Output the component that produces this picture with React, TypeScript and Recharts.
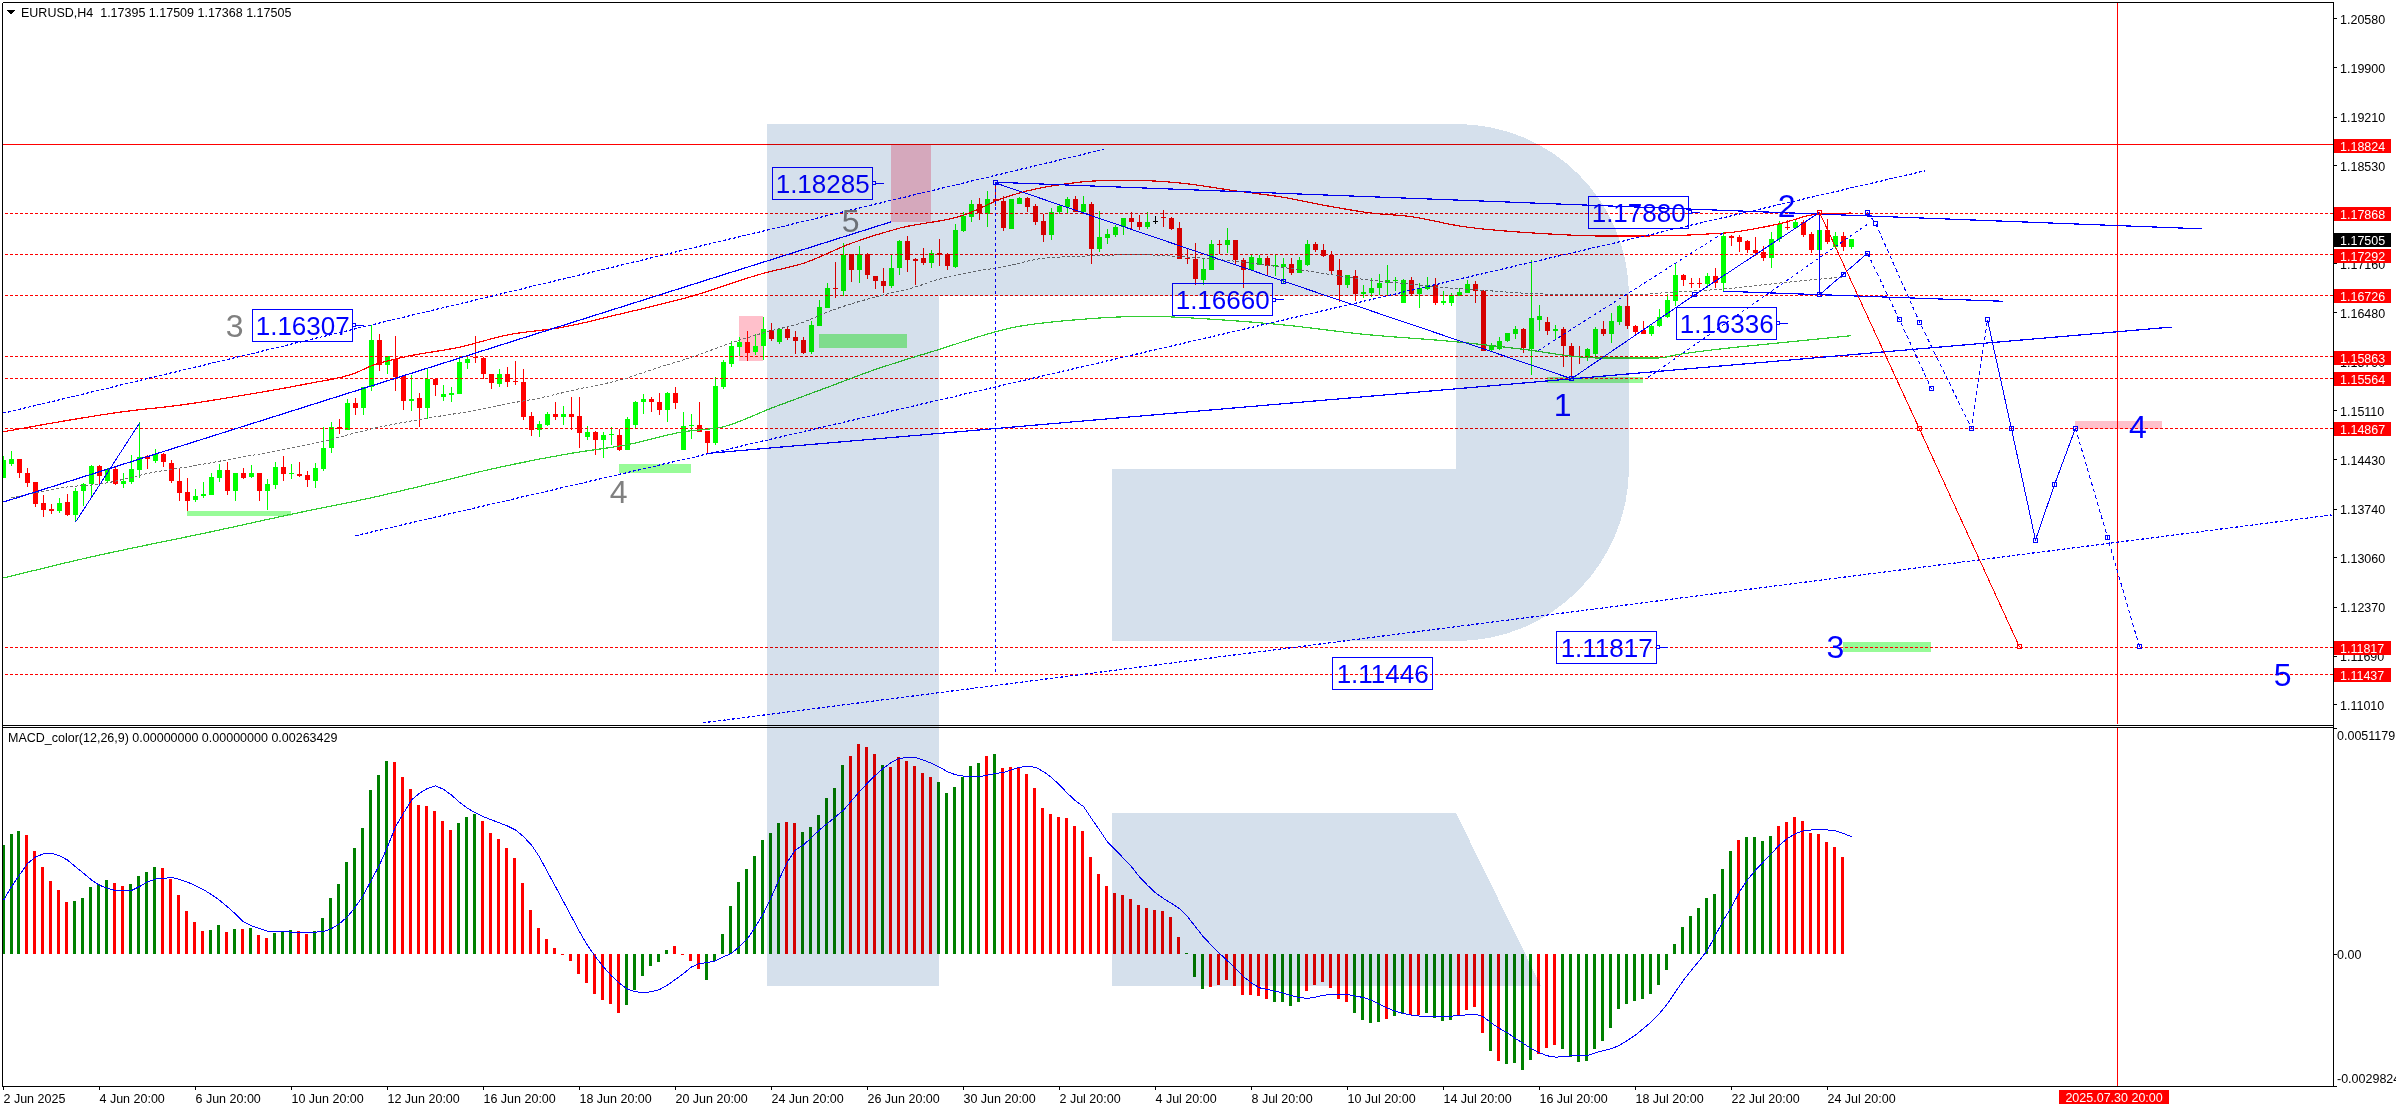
import { Bar, Cell, ComposedChart, Line, ReferenceArea, ReferenceDot, ReferenceLine, XAxis, YAxis } from 'recharts'

// prices below are written as price x 10000, MACD values as value x 100000
const opens = [
  11417, 11437, 11444, 11425, 11412, 11382, 11374, 11371, 11384, 11366, 11399, 11409, 11434, 11413, 11430, 11409, 11412, 11428, 11448, 11441,
  11451, 11439, 11414, 11398, 11387, 11392, 11394, 11417, 11428, 11400, 11425, 11419, 11424, 11400, 11408, 11433, 11423, 11423, 11421, 11414,
  11430, 11460, 11489, 11484, 11522, 11515, 11544, 11610, 11575, 11584, 11560, 11525, 11529, 11515, 11556, 11531, 11533, 11534, 11578, 11586,
  11585, 11562, 11549, 11562, 11553, 11551, 11504, 11484, 11492, 11507, 11502, 11507, 11504, 11474, 11482, 11470, 11477, 11478, 11456, 11491,
  11523, 11528, 11524, 11513, 11536, 11457, 11490, 11491, 11483, 11467, 11545, 11577, 11600, 11607, 11593, 11601, 11624, 11607, 11626, 11614,
  11610, 11593, 11630, 11655, 11682, 11679, 11730, 11707, 11730, 11699, 11692, 11685, 11710, 11748, 11723, 11724, 11718, 11732, 11730, 11712,
  11762, 11782, 11799, 11786, 11806, 11804, 11765, 11800, 11808, 11797, 11776, 11756, 11788, 11796, 11807, 11788, 11799, 11737, 11752, 11756,
  11767, 11780, 11775, 11767, 11776, 11781, 11780, 11766, 11724, 11723, 11694, 11707, 11744, 11742, 11750, 11722, 11708, 11715, 11725, 11713,
  11712, 11716, 11704, 11715, 11744, 11736, 11729, 11708, 11686, 11699, 11674, 11676, 11682, 11689, 11692, 11662, 11694, 11674, 11681, 11687,
  11662, 11661, 11672, 11676, 11688, 11679, 11596, 11598, 11608, 11618, 11626, 11598, 11638, 11635, 11623, 11626, 11601, 11588, 11585, 11591,
  11626, 11619, 11635, 11658, 11630, 11624, 11619, 11629, 11642, 11665, 11701, 11690, 11690, 11688, 11699, 11690, 11755, 11754, 11748, 11735,
  11733, 11725, 11751, 11767, 11766, 11775, 11758, 11735, 11763, 11739, 11755, 11739.5,
]
const highs = [
  11448, 11455, 11444, 11432, 11412, 11394, 11381, 11389, 11395, 11404, 11411, 11435, 11435, 11432, 11434, 11425, 11449, 11495, 11450, 11458,
  11453, 11442, 11432, 11417, 11402, 11412, 11425, 11437, 11440, 11425, 11431, 11436, 11425, 11416, 11440, 11448, 11437, 11440, 11427, 11439,
  11489, 11496, 11500, 11527, 11529, 11545, 11631, 11618, 11587, 11615, 11560, 11561, 11536, 11569, 11557, 11547, 11544, 11587, 11588, 11615,
  11586, 11563, 11569, 11572, 11581, 11570, 11509, 11497, 11509, 11523, 11518, 11530, 11530, 11490, 11483, 11482, 11489, 11486, 11502, 11525,
  11534, 11530, 11536, 11538, 11544, 11509, 11507, 11523, 11483, 11558, 11582, 11609, 11614, 11623, 11618, 11642, 11634, 11627, 11629, 11623,
  11614, 11636, 11666, 11689, 11719, 11745, 11730, 11741, 11732, 11699, 11710, 11728, 11750, 11755, 11724, 11738, 11736, 11751, 11732, 11772,
  11789, 11805, 11808, 11818, 11829, 11811, 11807, 11809, 11809, 11799, 11786, 11794, 11800, 11809, 11811, 11811, 11802, 11790, 11765, 11770,
  11780, 11788, 11784, 11789, 11783, 11791, 11782, 11775, 11737, 11745, 11724, 11749, 11750, 11766, 11750, 11724, 11729, 11729, 11727, 11730,
  11724, 11724, 11726, 11750, 11746, 11744, 11734, 11723, 11701, 11708, 11687, 11696, 11702, 11714, 11698, 11695, 11698, 11689, 11698, 11696,
  11678, 11675, 11683, 11694, 11692, 11680, 11606, 11614, 11620, 11630, 11627, 11721, 11659, 11642, 11631, 11628, 11606, 11602, 11599, 11628,
  11636, 11647, 11659, 11674, 11631, 11637, 11631, 11653, 11674, 11718, 11702, 11697, 11697, 11704, 11710, 11761, 11756, 11756, 11749, 11754,
  11741, 11761, 11776, 11778, 11778, 11778, 11760, 11788, 11779, 11760, 11760, 11750.9,
]
const lows = [
  11417, 11434, 11417, 11405, 11377, 11363, 11367, 11369, 11365, 11358, 11379, 11393, 11409, 11411, 11408, 11403, 11409, 11418, 11430, 11439,
  11433, 11410, 11385, 11372, 11384, 11390, 11394, 11412, 11394, 11386, 11416, 11417, 11386, 11373, 11402, 11414, 11416, 11419, 11405, 11404,
  11427, 11453, 11479, 11484, 11505, 11505, 11539, 11567, 11562, 11539, 11513, 11511, 11489, 11500, 11532, 11525, 11523, 11534, 11569, 11578,
  11555, 11542, 11545, 11545, 11547, 11499, 11476, 11474, 11490, 11498, 11492, 11484, 11460, 11471, 11450, 11446, 11463, 11455, 11456, 11486,
  11507, 11510, 11506, 11495, 11514, 11457, 11472, 11482, 11453, 11464, 11542, 11572, 11587, 11580, 11589, 11582, 11608, 11604, 11610, 11590,
  11590, 11590, 11629, 11655, 11668, 11672, 11691, 11690, 11695, 11681, 11675, 11682, 11701, 11705, 11686, 11715, 11711, 11713, 11707, 11710,
  11760, 11774, 11778, 11767, 11797, 11762, 11765, 11800, 11788, 11770, 11746, 11750, 11786, 11787, 11788, 11786, 11716, 11733, 11744, 11754,
  11756, 11765, 11763, 11765, 11772, 11768, 11764, 11723, 11716, 11687, 11686, 11707, 11730, 11732, 11714, 11683, 11707, 11714, 11701, 11699,
  11689, 11700, 11703, 11713, 11733, 11726, 11701, 11663, 11682, 11664, 11669, 11670, 11673, 11673, 11678, 11661, 11672, 11654, 11680, 11659,
  11659, 11658, 11671, 11675, 11662, 11594, 11595, 11596, 11607, 11612, 11592, 11561, 11622, 11617, 11611, 11573, 11557, 11577, 11580, 11588,
  11616, 11606, 11631, 11626, 11615, 11618, 11615, 11628, 11641, 11658, 11685, 11682, 11682, 11683, 11682, 11679, 11741, 11733, 11731, 11727,
  11720, 11711, 11747, 11763, 11765, 11754, 11732, 11730, 11744, 11737, 11734, 11736.8,
]
const closes = [
  11442, 11444, 11425, 11411, 11381, 11373, 11371, 11383, 11366, 11400, 11409, 11434, 11420, 11430, 11409, 11413, 11430, 11447, 11444, 11451,
  11440, 11414, 11397, 11386, 11393, 11395, 11419, 11428, 11400, 11424, 11418, 11424, 11400, 11409, 11433, 11423, 11425, 11420, 11415, 11431,
  11460, 11489, 11486, 11522, 11515, 11544, 11610, 11575, 11587, 11558, 11525, 11528, 11515, 11555, 11547, 11534, 11536, 11579, 11584, 11585,
  11562, 11550, 11562, 11552, 11551, 11503, 11485, 11493, 11507, 11502, 11507, 11503, 11480, 11482, 11470, 11478, 11479, 11457, 11500, 11524,
  11528, 11523, 11513, 11536, 11522, 11490, 11491, 11482, 11467, 11546, 11579, 11601, 11607, 11592, 11602, 11626, 11611, 11626, 11613, 11609,
  11592, 11631, 11656, 11682, 11681, 11729, 11707, 11730, 11700, 11692, 11685, 11710, 11748, 11722, 11720, 11718, 11731, 11729, 11713, 11764,
  11783, 11799, 11787, 11806, 11804, 11766, 11806, 11808, 11796, 11775, 11756, 11789, 11797, 11807, 11789, 11799, 11737, 11753, 11758, 11768,
  11780, 11774, 11767, 11775, 11776, 11780, 11765, 11723, 11723, 11695, 11709, 11744, 11742, 11750, 11721, 11708, 11726, 11725, 11713, 11715,
  11716, 11704, 11722, 11744, 11735, 11727, 11706, 11686, 11700, 11674, 11677, 11683, 11689, 11693, 11693, 11694, 11674, 11683, 11687, 11661,
  11664, 11673, 11677, 11688, 11678, 11595, 11602, 11608, 11620, 11626, 11599, 11640, 11644, 11623, 11625, 11601, 11587, 11586, 11597, 11626,
  11619, 11637, 11658, 11629, 11621, 11619, 11630, 11642, 11666, 11701, 11693, 11689, 11689, 11699, 11690, 11755, 11752, 11747, 11735, 11732,
  11725, 11751, 11772, 11766, 11775, 11757, 11736, 11764, 11747, 11755, 11740, 11750.5,
]

const macdHist = [
  247, 273, 279, 270, 233, 197, 165, 145, 118, 120, 127, 152, 159, 168, 161, 154, 159, 177, 186, 197,
  195, 170, 134, 97, 72, 52, 54, 66, 50, 57, 57, 60, 43, 36, 48, 52, 54, 52, 45, 52,
  82, 127, 159, 208, 240, 285, 371, 405, 437, 435, 401, 374, 337, 335, 324, 301, 281, 297, 310, 317,
  301, 274, 260, 240, 217, 161, 100, 59, 34, 14, -1, -16, -45, -66, -91, -104, -113, -134, -116, -82,
  -50, -27, -18, 9, 18, -1, -16, -34, -59, -16, 45, 109, 163, 193, 222, 258, 274, 297, 299, 297,
  276, 288, 315, 353, 376, 428, 448, 476, 469, 453, 428, 424, 446, 437, 426, 410, 401, 390, 365, 378,
  401, 426, 433, 448, 453, 421, 424, 423, 408, 376, 331, 317, 310, 308, 290, 279, 220, 181, 154, 138,
  134, 125, 111, 104, 100, 97, 84, 39, 2, -52, -79, -75, -70, -59, -72, -93, -93, -95, -102, -109,
  -109, -118, -109, -84, -70, -63, -77, -102, -109, -134, -149, -156, -154, -147, -140, -136, -138, -138, -134, -145,
  -152, -149, -140, -127, -120, -179, -220, -242, -249, -247, -263, -240, -226, -213, -206, -215, -233, -245, -242, -215,
  -197, -168, -125, -113, -106, -102, -91, -70, -36, 23, 61, 86, 104, 127, 136, 193, 233, 258, 265, 265,
  256, 267, 290, 299, 310, 301, 274, 272, 254, 242, 220,
]
const macdColors =
  'gggrrrrrrgggggrrggggrrrrrrggrgrgrrgggrrggggggggggrrrrrrrrgggrrrrrrrrrrrrrrrrrrggggggrrrrggggggggggrrggggggrrrrgrrrrrrggggggrgrrrrrrrrrrrrrrrrrrrrrrrgggrrrrrrrrggggrrrrrrggggrggrrggggrrrrgrggggrrrggggggggggggggggggggggrggggrrrrrr'
const macdSignal = [
  122, 153, 179, 205, 220, 227, 228, 223, 213, 198, 183, 168, 156, 149, 144, 143, 144, 153, 164, 170,
  171, 174, 169, 163, 155, 146, 135, 122, 107, 91, 73, 64, 58, 52, 51, 51, 50, 49, 49, 50,
  51, 58, 69, 85, 107, 134, 168, 202, 243, 288, 319, 349, 364, 375, 381, 373, 360, 344, 330, 320,
  311, 304, 297, 290, 281, 266, 247, 220, 186, 153, 119, 85, 51, 20, -6, -29, -49, -66, -79, -85,
  -87, -85, -80, -70, -57, -44, -29, -21, -19, -15, -6, 2, 17, 35, 62, 92, 130, 171, 209, 236,
  247, 264, 281, 296, 311, 326, 347, 368, 387, 405, 421, 434, 443, 445, 445, 439, 432, 423, 413, 406,
  403, 402, 402, 405, 409, 411, 417, 423, 425, 423, 413, 400, 383, 364, 347, 334, 307, 281, 254, 236,
  217, 198, 175, 156, 139, 126, 115, 103, 85, 62, 39, 20, 2, -15, -32, -51, -65, -76, -80, -84,
  -88, -94, -98, -100, -97, -93, -91, -91, -91, -95, -98, -104, -113, -122, -129, -134, -138, -140, -140, -140,
  -140, -140, -139, -137, -136, -142, -156, -168, -178, -191, -202, -214, -223, -230, -233, -232, -230, -230, -229, -223,
  -218, -214, -206, -195, -183, -168, -153, -134, -112, -85, -59, -36, -14, 9, 43, 77, 107, 141, 168, 190,
  209, 228, 247, 262, 273, 279, 281, 282, 281, 279, 273, 266,
]

// moving averages: [bar index, price x 10000]
const redMa = [
  [0, 11482], [6, 11494], [15, 11510], [22, 11519], [30, 11533], [38, 11549], [44, 11564], [46, 11574], [50, 11586], [57, 11600],
  [63, 11617], [70, 11628], [77, 11646], [86, 11671], [95, 11703], [100, 11717], [106, 11745], [112, 11766], [120, 11784], [125, 11808],
  [128, 11818], [133, 11828], [137, 11832], [143, 11832], [147, 11829], [154, 11818], [160, 11809], [165, 11798], [171, 11787], [176, 11782],
  [182, 11769], [193, 11758], [200, 11755], [205, 11755], [215, 11759], [222, 11772], [227, 11786], [231, 11787],
]
const grayMa = [
  [1, 11390], [4, 11397], [8, 11405], [12, 11409], [19, 11426], [23, 11433], [29, 11445], [34, 11455], [39, 11466], [46, 11486],
  [53, 11501], [58, 11510], [63, 11521], [67, 11529], [72, 11542], [77, 11554], [82, 11572], [86, 11586], [91, 11606], [95, 11620],
  [100, 11635], [103, 11649], [110, 11673], [114, 11684], [117, 11695], [121, 11705], [125, 11712], [130, 11724], [135, 11727], [142, 11729],
  [146, 11727], [152, 11722], [162, 11708], [169, 11696], [175, 11689], [179, 11684], [184, 11680], [193, 11674], [203, 11673], [209, 11677],
  [216, 11682], [220, 11687], [230, 11698],
]
const greenMa = [
  [0, 11278], [10, 11305], [27, 11345], [36, 11367], [46, 11390], [54, 11411], [61, 11430], [71, 11452], [78, 11464], [85, 11482],
  [90, 11489], [96, 11515], [103, 11544], [108, 11565], [117, 11597], [126, 11627], [135, 11639], [143, 11643], [151, 11639], [160, 11631],
  [170, 11618], [182, 11607], [190, 11597], [199, 11585], [207, 11585], [209, 11589], [222, 11606], [231, 11616],
]

// wave paths and forecast legs: [bar index, price x 10000]
const impulseLeg = [[9, 11356], [17, 11494]]
const wavePath = [[124, 11829], [160, 11692], [196, 11556], [211.4, 11673], [227, 11788], [227, 11673], [230, 11702], [233, 11731]]
const redForecast = [[227, 11788], [239.5, 11486], [252, 11182]]
const blueForecast = [[248, 11638], [251, 11486], [254, 11331], [256.4, 11409], [259, 11487]]
const dashedForecastA = [[259, 11487], [263, 11335], [267, 11182]]
const dashedForecastB = [[233, 11788], [234, 11773], [239.5, 11635], [246, 11487], [248, 11638]]
const dashedForecastC = [[233, 11731], [237, 11638], [241, 11542]]

// straight trend lines: [bar, price, bar, price]
const solidTrends = [
  [0, 11384, 111, 11775],
  [88.2, 11452, 271, 11628],
  [124, 11830, 274.8, 11765],
  [215, 11678, 250, 11664],
]
const dottedTrends = [
  [0, 11508, 137.6, 11876],
  [44, 11337, 240.2, 11846],
  [87.4, 11076, 291, 11366],
]
const thinDotted = [
  [191.8, 11595, 215.2, 11761],
  [205.6, 11558, 233.2, 11773],
]
const targetDrop = [124, 11829, 124, 11144.6]

const dashedLevels = [1.17868, 1.17292, 1.16726, 1.15863, 1.15564, 1.14867, 1.11817, 1.11437]
const solidLevel = 1.18824
const lastPrice = 1.17505
const forecastBar = 264.2

// [bar, bar, price, price]
const greenZones = [
  [22.9, 35.9, 1.13715, 1.13645],
  [76.9, 85.9, 1.1437, 1.14245],
  [101.9, 112.9, 1.16184, 1.15988],
  [192.9, 204.9, 1.15584, 1.155],
  [230, 240.9, 1.11887, 1.11748],
]
const pinkZones = [
  [91.9, 94.9, 1.16435, 1.15807],
  [110.9, 115.9, 1.18824, 1.17746],
  [258.9, 269.8, 1.1497, 1.14858],
]

const priceBoxes = [
  { bar: 37.4, price: 1.16307, stub: true },
  { bar: 102.4, price: 1.18285, stub: true },
  { bar: 152.4, price: 1.1666, stub: true },
  { bar: 204.4, price: 1.1788, stub: true },
  { bar: 215.4, price: 1.16336, stub: true },
  { bar: 172.4, price: 1.11446, stub: false },
  { bar: 200.4, price: 1.11817, stub: true },
]
const grayWaves = [
  { bar: 28.9, price: 1.163, text: '3' },
  { bar: 105.9, price: 1.1777, text: '5' },
  { bar: 76.9, price: 1.1398, text: '4' },
]
const blueWaves = [
  { bar: 194.9, price: 1.152, text: '1' },
  { bar: 222.9, price: 1.1798, text: '2' },
  { bar: 229, price: 1.1182, text: '3' },
  { bar: 266.8, price: 1.1489, text: '4' },
  { bar: 284.9, price: 1.1144, text: '5' },
]

const priceTicks = [1.2058, 1.199, 1.1921, 1.1853, 1.1784, 1.1716, 1.1648, 1.1579, 1.1511, 1.1443, 1.1374, 1.1306, 1.1237, 1.1169, 1.1101]
const macdTicks = [0.0051179, 0, -0.0029824]
const macdTickLabels = ['0.0051179', '0.00', '-0.0029824']
const dateTicks = [
  '2 Jun 2025', '4 Jun 20:00', '6 Jun 20:00', '10 Jun 20:00', '12 Jun 20:00', '16 Jun 20:00', '18 Jun 20:00', '20 Jun 20:00', '24 Jun 20:00', '26 Jun 20:00',
  '30 Jun 20:00', '2 Jul 20:00', '4 Jul 20:00', '8 Jul 20:00', '10 Jul 20:00', '14 Jul 20:00', '16 Jul 20:00', '18 Jul 20:00', '22 Jul 20:00', '24 Jul 20:00',
]

const priceDomain = [1.10744, 1.208]
const macdDomain = [-0.0029824, 0.0051179]
const barDomain = [-0.0625, 291.19]
const FONT = '"Liberation Sans", Arial, sans-serif'
const TICK_SIZE = 12.5
const BLUE = '#0000ff'
const RED = '#ff0000'

const candles = opens.map((o, i) => ({
  i,
  o: o / 1e4,
  h: highs[i] / 1e4,
  l: lows[i] / 1e4,
  c: closes[i] / 1e4,
}))
const macdRows = macdSignal.map((s, i) => ({
  i,
  hist: i < macdHist.length ? macdHist[i] / 1e5 : null,
  sig: s / 1e5,
}))
const pts = (a: number[][]) => a.map(([i, p]) => ({ i, p: p / 1e4 }))

function Candle({ x, y, width, height, payload }: any) {
  const { o, h, l, c } = payload
  const cx = x + width / 2
  const perUnit = height / (h - l)
  const top = y + (h - Math.max(o, c)) * perUnit
  const bodyH = Math.max(1, Math.abs(o - c) * perUnit)
  const color = c > o ? '#00ff00' : c < o ? RED : '#000000'
  return (
    <g>
      <rect x={cx - 0.5} y={y} width={1} height={height} fill={color} />
      <rect x={cx - 2.5} y={top} width={5} height={bodyH} fill={color} />
    </g>
  )
}

function squareDot(color: string) {
  return (props: any) => (
    <rect key={props.index} x={props.cx - 2} y={props.cy - 2} width={4} height={4} fill="none" stroke={color} strokeWidth={1} />
  )
}

// level tags come last in the tick list, so they paint over the plain price labels like in the terminal
function PriceTick({ x, y, payload }: any) {
  const v = payload.value
  const isLevel = dashedLevels.includes(v) || v === solidLevel
  if (isLevel || v === lastPrice) {
    return (
      <g>
        <rect x={x + 1} y={y - 6} width={57} height={14} fill={isLevel ? RED : '#000000'} />
        <text x={x + 7} y={y + 6} fontSize={TICK_SIZE} fontFamily={FONT} fill="#fff">
          {v.toFixed(5)}
        </text>
      </g>
    )
  }
  return (
    <g>
      <line x1={x} x2={x + 4} y1={y} y2={y} stroke="#000" />
      <text x={x + 7} y={y + 5} fontSize={TICK_SIZE} fontFamily={FONT} fill="#000">
        {v.toFixed(5)}
      </text>
    </g>
  )
}

function MacdTick({ x, y, index }: any) {
  const dy = index === 0 ? 12 : index === 2 ? -3 : 5
  return (
    <g>
      <line x1={x} x2={x + 4} y1={y} y2={y} stroke="#000" />
      <text x={x + 4} y={y + dy} fontSize={TICK_SIZE} fontFamily={FONT} fill="#000">
        {macdTickLabels[index]}
      </text>
    </g>
  )
}

function DateTick({ x, y, index }: any) {
  return (
    <g>
      <line x1={x} x2={x} y1={y} y2={y + 4} stroke="#000" />
      <text x={x} y={y + 17} fontSize={TICK_SIZE} fontFamily={FONT} fill="#000">
        {dateTicks[index]}
      </text>
    </g>
  )
}

function priceBox(price: number, stub: boolean) {
  return (props: any) => (
    <g>
      <rect x={props.cx - 50} y={props.cy - 16} width={100} height={32} fill="none" stroke={BLUE} strokeWidth={1} />
      <text x={props.cx} y={props.cy + 9.5} textAnchor="middle" fontSize={26} fontFamily={FONT} fill={BLUE}>
        {price.toFixed(5)}
      </text>
      {stub && <line x1={props.cx + 50} x2={props.cx + 61} y1={props.cy} y2={props.cy} stroke={BLUE} />}
      {stub && <rect x={props.cx + 50} y={props.cy - 1.5} width={3} height={3} fill="#fff" stroke={BLUE} />}
    </g>
  )
}

function waveLabel(text: string, color: string) {
  return (props: any) => (
    <text x={props.cx} y={props.cy + 11.5} textAnchor="middle" fontSize={32} fontFamily={FONT} fill={color}>
      {text}
    </text>
  )
}

function dateTag(props: any) {
  return (
    <g>
      <rect x={props.cx - 58} y={props.cy + 4} width={110} height={14} fill={RED} />
      <text x={props.cx - 3} y={props.cy + 16} textAnchor="middle" fontSize={TICK_SIZE} fontFamily={FONT} fill="#fff">
        2025.07.30 20:00
      </text>
    </g>
  )
}

function segment(t: number[], dash: string | undefined, width: number, key: string) {
  return (
    <ReferenceLine
      key={key}
      segment={[
        { x: t[0], y: t[1] / 1e4 },
        { x: t[2], y: t[3] / 1e4 },
      ]}
      stroke={BLUE}
      strokeWidth={width}
      strokeDasharray={dash}
      ifOverflow="visible"
    />
  )
}

function PricePane() {
  return (
    <ComposedChart width={2396} height={725} data={candles} margin={{ top: 3, right: 0, bottom: 1, left: 3 }}>
      <XAxis dataKey="i" type="number" domain={barDomain} allowDataOverflow hide />
      <YAxis
        orientation="right"
        width={63}
        domain={priceDomain}
        allowDataOverflow
        ticks={[...priceTicks, ...dashedLevels, solidLevel, lastPrice]}
        interval={0}
        axisLine={false}
        tickLine={false}
        tickSize={0}
        tickMargin={0}
        tick={<PriceTick />}
      />
      {greenZones.map((z, k) => (
        <ReferenceArea key={'g' + k} x1={z[0]} x2={z[1]} y1={z[2]} y2={z[3]} fill="#98fb98" fillOpacity={1} stroke="none" ifOverflow="visible" />
      ))}
      {pinkZones.map((z, k) => (
        <ReferenceArea key={'p' + k} x1={z[0]} x2={z[1]} y1={z[2]} y2={z[3]} fill="#ffc0cb" fillOpacity={1} stroke="none" ifOverflow="visible" />
      ))}
      <ReferenceLine y={solidLevel} stroke={RED} strokeWidth={1} />
      {dashedLevels.map((v) => (
        <ReferenceLine key={v} y={v} stroke={RED} strokeWidth={1} strokeDasharray="3 2" />
      ))}
      <ReferenceLine x={forecastBar} stroke={RED} strokeWidth={1} />
      <Line data={pts(greenMa)} dataKey="p" type="monotone" stroke="#32cd32" strokeWidth={1.2} dot={false} isAnimationActive={false} />
      <Line data={pts(redMa)} dataKey="p" type="monotone" stroke={RED} strokeWidth={1.2} dot={false} isAnimationActive={false} />
      <Line data={pts(grayMa)} dataKey="p" type="monotone" stroke="#707070" strokeWidth={1} strokeDasharray="3 2" dot={false} isAnimationActive={false} />
      <Bar dataKey={(d: any) => [d.l, d.h]} barSize={5} shape={<Candle />} isAnimationActive={false} />
      {solidTrends.map((t, k) => segment(t, undefined, 1.2, 'st' + k))}
      {dottedTrends.map((t, k) => segment(t, '3 2', 1.2, 'dt' + k))}
      {thinDotted.map((t, k) => segment(t, '3 3', 1, 'td' + k))}
      {segment(targetDrop, '3 3', 1, 'drop')}
      <Line data={pts(impulseLeg)} dataKey="p" stroke={BLUE} strokeWidth={1} dot={false} isAnimationActive={false} />
      <Line data={pts(wavePath)} dataKey="p" stroke={BLUE} strokeWidth={1} dot={squareDot(BLUE)} isAnimationActive={false} />
      <Line data={pts(redForecast)} dataKey="p" stroke={RED} strokeWidth={1} dot={squareDot(RED)} isAnimationActive={false} />
      <Line data={pts(blueForecast)} dataKey="p" stroke={BLUE} strokeWidth={1} dot={squareDot(BLUE)} isAnimationActive={false} />
      <Line data={pts(dashedForecastA)} dataKey="p" stroke={BLUE} strokeWidth={1} strokeDasharray="4 3" dot={squareDot(BLUE)} isAnimationActive={false} />
      <Line data={pts(dashedForecastB)} dataKey="p" stroke={BLUE} strokeWidth={1} strokeDasharray="4 3" dot={squareDot(BLUE)} isAnimationActive={false} />
      <Line data={pts(dashedForecastC)} dataKey="p" stroke={BLUE} strokeWidth={1} strokeDasharray="4 3" dot={squareDot(BLUE)} isAnimationActive={false} />
      {priceBoxes.map((b) => (
        <ReferenceDot key={b.price} x={b.bar} y={b.price} ifOverflow="visible" shape={priceBox(b.price, b.stub)} />
      ))}
      {grayWaves.map((w) => (
        <ReferenceDot key={'gw' + w.bar} x={w.bar} y={w.price} ifOverflow="visible" shape={waveLabel(w.text, '#808080')} />
      ))}
      {blueWaves.map((w) => (
        <ReferenceDot key={'bw' + w.bar} x={w.bar} y={w.price} ifOverflow="visible" shape={waveLabel(w.text, BLUE)} />
      ))}
    </ComposedChart>
  )
}

function MacdPane() {
  return (
    <ComposedChart width={2396} height={383} data={macdRows} margin={{ top: 1, right: 0, bottom: 0, left: 3 }}>
      <XAxis
        dataKey="i"
        type="number"
        domain={barDomain}
        allowDataOverflow
        ticks={dateTicks.map((_, k) => k * 12)}
        interval={0}
        height={24}
        axisLine={false}
        tickLine={false}
        tickSize={0}
        tickMargin={0}
        tick={<DateTick />}
      />
      <YAxis
        orientation="right"
        width={63}
        domain={macdDomain}
        allowDataOverflow
        ticks={macdTicks}
        interval={0}
        axisLine={false}
        tickLine={false}
        tickSize={0}
        tickMargin={0}
        tick={<MacdTick />}
      />
      <ReferenceLine x={forecastBar} stroke={RED} strokeWidth={1} />
      <Bar dataKey="hist" barSize={3} isAnimationActive={false}>
        {macdRows.map((r) => (
          <Cell key={r.i} fill={macdColors[r.i] === 'g' ? '#008000' : RED} />
        ))}
      </Bar>
      <Line dataKey="sig" stroke={BLUE} strokeWidth={1} dot={false} isAnimationActive={false} />
      <ReferenceDot x={forecastBar} y={macdDomain[0]} ifOverflow="visible" shape={dateTag} />
    </ComposedChart>
  )
}

function Frame() {
  return (
    <svg width={2396} height={1110} style={{ position: 'absolute', left: 0, top: 0, pointerEvents: 'none' }}>
      <g stroke="#000" strokeWidth={1}>
        <line x1={2.5} x2={2.5} y1={2.5} y2={1086.5} />
        <line x1={2.5} x2={2333.5} y1={2.5} y2={2.5} />
        <line x1={2333.5} x2={2333.5} y1={2.5} y2={1086.5} />
        <line x1={2.5} x2={2333.5} y1={725.5} y2={725.5} />
        <line x1={2.5} x2={2333.5} y1={727.5} y2={727.5} />
        <line x1={2.5} x2={2333.5} y1={1086.5} y2={1086.5} />
      </g>
      <polygon points="7,10 15,10 11,15" fill="#000" />
      <text x={21} y={17} fontSize={TICK_SIZE} fontFamily={FONT} fill="#000" xmlSpace="preserve">
        EURUSD,H4  1.17395 1.17509 1.17368 1.17505
      </text>
      <text x={8} y={742} fontSize={TICK_SIZE} fontFamily={FONT} fill="#000">
        MACD_color(12,26,9) 0.00000000 0.00000000 0.00263429
      </text>
    </svg>
  )
}

function Logo() {
  return (
    <svg width={2396} height={1110} style={{ position: 'absolute', left: 0, top: 0, pointerEvents: 'none', mixBlendMode: 'multiply' }}>
      <path
        d="M767,124 H1457 A172,172 0 0 1 1629,296 V467 A172,174 0 0 1 1457,641 H1112 V469 H1456 V296 H939 V986 H767 Z M1112,813 H1456 L1541,986 H1112 Z"
        fill="#d5e0ec"
      />
    </svg>
  )
}

export default function App() {
  return (
    <div style={{ position: 'relative', width: 2396, height: 1110, background: '#fff', overflow: 'hidden', shapeRendering: 'crispEdges' }}>
      <style>{'body{margin:0}'}</style>
      <div style={{ position: 'absolute', left: 0, top: 0 }}>
        <PricePane />
      </div>
      <div style={{ position: 'absolute', left: 0, top: 727 }}>
        <MacdPane />
      </div>
      <Frame />
      <Logo />
    </div>
  )
}
